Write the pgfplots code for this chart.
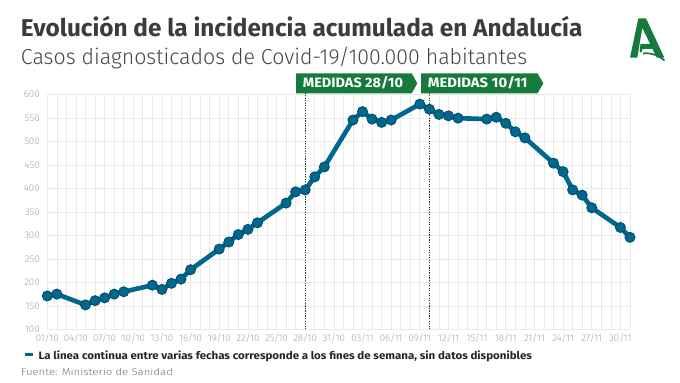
\documentclass[border=0pt]{standalone}
\usepackage{pgfplots}
\pgfplotsset{compat=1.18}
\usepackage{fontspec}
\usepackage{graphicx}
\setmainfont{Fira Sans}
\newfontfamily\flight{Fira Sans Light}
\definecolor{linecol}{RGB}{0,104,142}
\definecolor{linedark}{RGB}{0,78,110}
\definecolor{jgreen}{RGB}{22,122,60}
\definecolor{titlecol}{RGB}{60,60,60}
\definecolor{subcol}{RGB}{70,70,70}
\definecolor{tickcol}{RGB}{165,165,165}
\definecolor{gridcol}{RGB}{234,234,234}
\definecolor{dotcol}{RGB}{20,70,45}
\begin{document}
\begin{tikzpicture}[x=0.75pt,y=0.75pt]
\useasboundingbox[fill=white] (0,0) rectangle (680,382);
\begin{axis}[
  at={(35.475pt,39.525pt)}, anchor=south west,
  scale only axis, width=437pt, height=175.95pt,
  xmin=0, xmax=61, ymin=100, ymax=600,
  clip=false,
  axis line style={draw=none},
  major tick length=0pt, minor tick length=0pt,
  xtick={0,3,...,60},
  xticklabels={01/10,04/10,07/10,10/10,13/10,16/10,19/10,22/10,25/10,28/10,31/10,03/11,06/11,09/11,12/11,15/11,18/11,21/11,24/11,27/11,30/11},
  minor xtick={0,...,61},
  ytick={100,150,...,600},
  xmajorgrids, xminorgrids, ymajorgrids,
  grid style={color=gridcol, line width=0.5pt},
  minor grid style={color=gridcol, line width=0.5pt},
  /pgf/number format/assume math mode=true,
  ticklabel style={font=\flight\fontsize{7.3}{8}\selectfont, text=tickcol},
  yticklabel style={inner sep=0pt, xshift=-5.5pt},
  xticklabel style={inner sep=0pt, yshift=-2.8pt},
]
\draw[dotcol, line width=0.9pt, densely dotted] (axis cs:27,100) -- (axis cs:27,603);
\draw[dotcol, line width=0.9pt, densely dotted] (axis cs:40,100) -- (axis cs:40,603);
\addplot[color=linecol, line width=3.5pt, mark=*, mark size=3.75pt,
  mark options={fill=linecol, draw=linedark, line width=0.7pt}] table {
x y
0 171
1 175
4 152
5 161
6 167
7 175
8 180
11 194
12 185
13 198
14 207
15 227
18 271
19 286
20 302
21 313
22 327
25 369
26 393
27 397
28 425
29 446
32 546
33 564
34 548
35 541
36 546
39 580
40 569
41 558
42 555
43 550
46 548
47 552
48 539
49 521
50 508
53 454
54 436
55 397
56 386
57 359
60 317
61 296
};
\end{axis}
\begin{scope}[shift={(0,382)}, yscale=-1]
% titles
\node[anchor=base west, inner sep=0, text=titlecol] at (20.7,36.7)
  {\resizebox{421pt}{\height}{\bfseries\fontsize{18.2}{20}\selectfont Evolución de la incidencia acumulada en Andalucía}};
\node[anchor=base west, inner sep=0, text=subcol] at (20.7,65)
  {\resizebox{379.7pt}{\height}{\flight\fontsize{16.3}{18}\selectfont Casos diagnosticados de Covid-19/100.000 habitantes}};
% banners
\fill[jgreen] (296,73.3) -- (411.7,73.3) -- (417.3,83.3) -- (411.7,93.3) -- (296,93.3) -- cycle;
\fill[jgreen] (421,73.3) -- (537.5,73.3) -- (543.3,83.3) -- (537.5,93.3) -- (421,93.3) -- cycle;
\node[anchor=base west, inner sep=0, text=white] at (302.7,88)
  {\resizebox{75pt}{\height}{\bfseries\fontsize{10.2}{12}\selectfont MEDIDAS 28/10}};
\node[anchor=base west, inner sep=0, text=white] at (427.7,88)
  {\resizebox{74.7pt}{\height}{\bfseries\fontsize{10.2}{12}\selectfont MEDIDAS 10/11}};
% logo
\fill[jgreen] (630,57.7) -- (638.3,18.3) -- (646,18.3) -- (664.3,57.7) -- (656.7,57.7) -- (642.3,27.7) -- (637.3,57.7) -- cycle;
\fill[jgreen] (640.5,44) -- (652.5,44) -- (654.8,49) -- (642.5,49) -- (641.5,52.5) -- (639.5,52.5) -- cycle;
\draw[jgreen, line width=1.3pt] (643,53.5) .. controls (651,52.5) and (658,55) .. (664.5,60.5);
% footer
\draw[linecol, line width=2pt] (25,354.7) -- (33.3,354.7);
\node[anchor=base west, inner sep=0, text=black!85] at (38.3,359.3)
  {\resizebox{370pt}{\height}{\bfseries\fontsize{8}{10}\selectfont La línea continua entre varias fechas corresponde a los fines de semana, sin datos disponibles}};
\node[anchor=base west, inner sep=0, text=black!55] at (20.7,375)
  {\resizebox{114pt}{\height}{\flight\fontsize{7.3}{9}\selectfont Fuente: Ministerio de Sanidad}};
\end{scope}
\end{tikzpicture}
\end{document}
